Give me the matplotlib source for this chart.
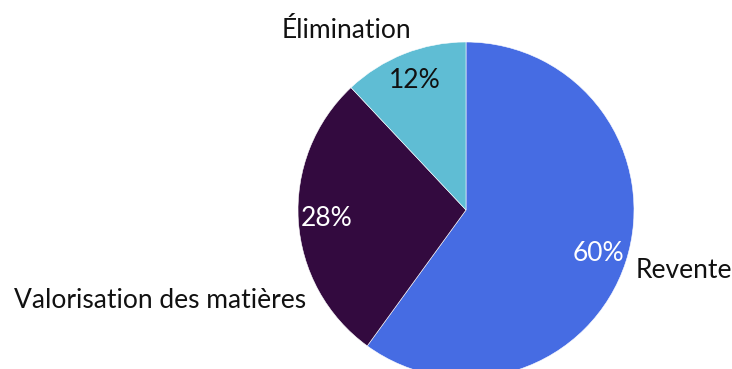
import numpy as np
import matplotlib.pyplot as plt

labels = ['Revente', 'Valorisation des matières', 'Élimination']
values = [60, 28, 12]
colors = ['#466ce3', '#330a3f', '#5fbdd4']
pct_colors = ['white', 'white', '#111111']

plt.rcParams['font.family'] = ['Lato', 'DejaVu Sans']

fig = plt.figure(figsize=(7.32, 3.69), dpi=100)
ax = fig.add_axes([0, 0, 1, 1])

cx, cy, r = 466, 369 - 210, 168
wedges, texts, autotexts = ax.pie(
    values, labels=labels, colors=colors, startangle=90, counterclock=False,
    center=(cx, cy), radius=r, autopct='%d%%', pctdistance=0.83,
    wedgeprops=dict(edgecolor='white', linewidth=0.4),
    textprops=dict(fontsize=19), frame=True)
ax.set_xlim(0, 732)
ax.set_ylim(0, 369)
ax.set_aspect('equal')
ax.axis('off')

for t, c in zip(autotexts, pct_colors):
    t.set_color(c)

# label placement (right/left of the pie like the original)
label_pos = [(636, 369 - 270, 'left'), (306, 369 - 300, 'right'), (411, 369 - 30, 'right')]
for t, (x, y, ha) in zip(texts, label_pos):
    t.set_position((x, y))
    t.set_ha(ha)
    t.set_va('center')
    t.set_color('#111111')

fig.savefig('out.png', dpi=100)
